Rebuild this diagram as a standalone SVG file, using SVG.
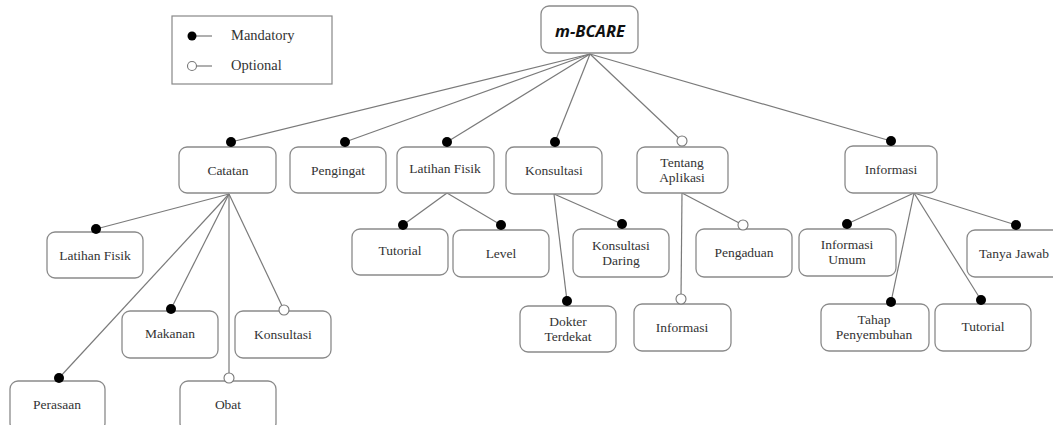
<svg xmlns="http://www.w3.org/2000/svg" width="1053" height="425" viewBox="0 0 1053 425">
<style>
.box{fill:#fff;stroke:#8a8a8a;stroke-width:1.3}
.t{font-family:"Liberation Serif","DejaVu Serif",serif;font-size:13.5px;fill:#333;text-anchor:middle}
.lg{font-family:"Liberation Serif","DejaVu Serif",serif;font-size:14.5px;fill:#333}
.root{font-family:"Open Sans","Liberation Sans",sans-serif;font-size:16.5px;font-weight:bold;font-style:italic;fill:#111;text-anchor:middle}
.ln{stroke:#7a7a7a;stroke-width:1.2;fill:none}
.m{fill:#000}
.o{fill:#fff;stroke:#777;stroke-width:1.1}
</style>
<rect width="1053" height="425" fill="#fff"/>
<g id="legend">
<rect x="172" y="16" width="160" height="68" fill="#fff" stroke="#888" stroke-width="1.2"/>
<line class="ln" x1="192" y1="36" x2="212" y2="36"/>
<circle class="m" cx="192" cy="36" r="4.5"/>
<text class="lg" x="231" y="40">Mandatory</text>
<line class="ln" x1="192" y1="66" x2="212" y2="66"/>
<circle class="o" cx="192" cy="66" r="4.5"/>
<text class="lg" x="231" y="70">Optional</text>
</g>
<g id="connectors">
<line class="ln" x1="590" y1="54" x2="231" y2="142"/>
<line class="ln" x1="590" y1="54" x2="345" y2="142"/>
<line class="ln" x1="590" y1="54" x2="447" y2="142"/>
<line class="ln" x1="590" y1="54" x2="555" y2="142"/>
<line class="ln" x1="590" y1="54" x2="682" y2="141"/>
<line class="ln" x1="590" y1="54" x2="891" y2="141"/>
<line class="ln" x1="229" y1="194" x2="96" y2="229"/>
<line class="ln" x1="229" y1="194" x2="171" y2="309"/>
<line class="ln" x1="229" y1="194" x2="284" y2="310"/>
<line class="ln" x1="229" y1="194" x2="59" y2="378"/>
<line class="ln" x1="229" y1="194" x2="229" y2="378"/>
<line class="ln" x1="447" y1="193" x2="403" y2="225"/>
<line class="ln" x1="447" y1="193" x2="501" y2="225"/>
<line class="ln" x1="554" y1="194" x2="622" y2="224"/>
<line class="ln" x1="554" y1="194" x2="567" y2="301"/>
<line class="ln" x1="682" y1="193" x2="743" y2="225"/>
<line class="ln" x1="682" y1="193" x2="681" y2="299"/>
<line class="ln" x1="914" y1="193" x2="847" y2="224"/>
<line class="ln" x1="914" y1="193" x2="1016" y2="225"/>
<line class="ln" x1="914" y1="193" x2="891" y2="302"/>
<line class="ln" x1="914" y1="193" x2="981" y2="300"/>
</g>
<g id="root"><rect class="box" x="541" y="6" width="97" height="47" rx="8"/><text class="root" x="590" y="37">m-BCARE</text></g>
<g id="catatan"><rect class="box" x="179" y="147" width="97" height="46" rx="8"/><text class="t" x="228" y="175">Catatan</text><circle class="m" cx="231" cy="142" r="5"/></g>
<g id="pengingat"><rect class="box" x="290" y="147" width="96" height="46" rx="8"/><text class="t" x="338" y="175">Pengingat</text><circle class="m" cx="345" cy="142" r="5"/></g>
<g id="latihan"><rect class="box" x="397" y="147" width="97" height="46" rx="8"/><text class="t" x="445" y="173">Latihan Fisik</text><circle class="m" cx="447" cy="142" r="5"/></g>
<g id="konsultasi"><rect class="box" x="506" y="147" width="96" height="47" rx="8"/><text class="t" x="554" y="175">Konsultasi</text><circle class="m" cx="555" cy="142" r="5"/></g>
<g id="tentang"><rect class="box" x="637" y="147" width="91" height="46" rx="8"/><text class="t" x="682" y="167">Tentang</text><text class="t" x="682" y="182">Aplikasi</text><circle class="o" cx="682" cy="141" r="5"/></g>
<g id="informasi"><rect class="box" x="845" y="146" width="92" height="47" rx="8"/><text class="t" x="891" y="174">Informasi</text><circle class="m" cx="891" cy="141" r="5"/></g>
<g id="c-latihan"><rect class="box" x="47" y="232" width="96" height="46" rx="8"/><text class="t" x="95" y="260">Latihan Fisik</text><circle class="m" cx="96" cy="229" r="5"/></g>
<g id="c-makanan"><rect class="box" x="122" y="311" width="96" height="47" rx="8"/><text class="t" x="170" y="338">Makanan</text><circle class="m" cx="171" cy="309" r="5"/></g>
<g id="c-konsultasi"><rect class="box" x="235" y="311" width="96" height="47" rx="8"/><text class="t" x="283" y="339">Konsultasi</text><circle class="o" cx="284" cy="310" r="5"/></g>
<g id="c-perasaan"><rect class="box" x="10" y="381" width="95" height="50" rx="8"/><text class="t" x="57" y="409">Perasaan</text><circle class="m" cx="59" cy="378" r="5"/></g>
<g id="c-obat"><rect class="box" x="180" y="381" width="96" height="50" rx="8"/><text class="t" x="228" y="409">Obat</text><circle class="o" cx="229" cy="378" r="5"/></g>
<g id="l-tutorial"><rect class="box" x="352" y="229" width="96" height="46" rx="8"/><text class="t" x="400" y="255">Tutorial</text><circle class="m" cx="403" cy="225" r="5"/></g>
<g id="l-level"><rect class="box" x="453" y="230" width="96" height="47" rx="8"/><text class="t" x="501" y="258">Level</text><circle class="m" cx="501" cy="225" r="5"/></g>
<g id="k-daring"><rect class="box" x="573" y="229" width="96" height="48" rx="8"/><text class="t" x="621" y="250">Konsultasi</text><text class="t" x="621" y="265">Daring</text><circle class="m" cx="622" cy="224" r="5"/></g>
<g id="k-dokter"><rect class="box" x="520" y="306" width="96" height="46" rx="8"/><text class="t" x="568" y="326">Dokter</text><text class="t" x="568" y="341">Terdekat</text><circle class="m" cx="567" cy="301" r="5"/></g>
<g id="t-pengaduan"><rect class="box" x="696" y="229" width="96" height="48" rx="8"/><text class="t" x="744" y="257">Pengaduan</text><circle class="o" cx="743" cy="225" r="5"/></g>
<g id="t-informasi"><rect class="box" x="634" y="304" width="97" height="47" rx="8"/><text class="t" x="682" y="332">Informasi</text><circle class="o" cx="681" cy="299" r="5"/></g>
<g id="i-umum"><rect class="box" x="799" y="229" width="97" height="47" rx="8"/><text class="t" x="847" y="249">Informasi</text><text class="t" x="847" y="264">Umum</text><circle class="m" cx="847" cy="224" r="5"/></g>
<g id="i-tanya"><rect class="box" x="967" y="230" width="96" height="47" rx="8"/><text class="t" x="1014" y="258">Tanya Jawab</text><circle class="m" cx="1016" cy="225" r="5"/></g>
<g id="i-tahap"><rect class="box" x="821" y="304" width="108" height="47" rx="8"/><text class="t" x="874" y="324">Tahap</text><text class="t" x="874" y="339">Penyembuhan</text><circle class="m" cx="891" cy="302" r="5"/></g>
<g id="i-tutorial"><rect class="box" x="935" y="304" width="96" height="47" rx="8"/><text class="t" x="983" y="331">Tutorial</text><circle class="m" cx="981" cy="300" r="5"/></g>
</svg>
